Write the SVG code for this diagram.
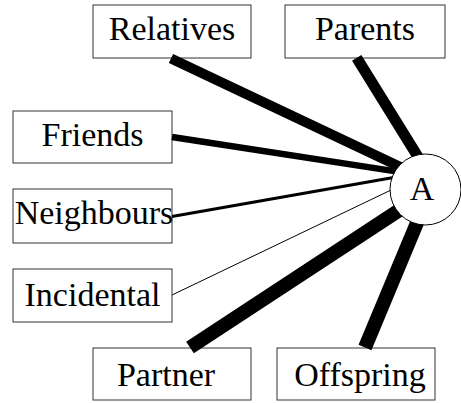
<svg xmlns="http://www.w3.org/2000/svg" width="461" height="403" viewBox="0 0 461 403">
<style>
.box{fill:#fff;stroke:#333;stroke-width:1}
.lbl{font-family:"Liberation Serif","Times New Roman",serif;font-size:34px;fill:#000;text-anchor:middle}
.edge{stroke:#000;fill:none;stroke-linecap:butt}
</style>
<rect width="461" height="403" fill="#fff"/>
<g id="relatives"><rect class="box" x="93" y="5" width="158" height="53"/><text class="lbl" x="172" y="40">Relatives</text></g>
<g id="parents"><rect class="box" x="285" y="5" width="160" height="53"/><text class="lbl" x="365" y="40">Parents</text></g>
<g id="friends"><rect class="box" x="13" y="111" width="159" height="52"/><text class="lbl" x="92.5" y="146">Friends</text></g>
<g id="neighbours"><rect class="box" x="13" y="189" width="159" height="54"/><text class="lbl" x="94" y="224">Neighbours</text></g>
<g id="incidental"><rect class="box" x="13" y="269" width="159" height="53"/><text class="lbl" x="92.5" y="306">Incidental</text></g>
<g id="partner"><rect class="box" x="93" y="348" width="158" height="52"/><text class="lbl" x="166" y="386">Partner</text></g>
<g id="offspring"><rect class="box" x="277" y="348" width="158" height="52"/><text class="lbl" x="360" y="386">Offspring</text></g>
<g id="connectors">
<line class="edge" x1="171" y1="58.5" x2="403.6" y2="168.4" stroke-width="10"/>
<line class="edge" x1="356.7" y1="57.8" x2="418.8" y2="158.1" stroke-width="11"/>
<line class="edge" x1="172" y1="137" x2="404" y2="172.6" stroke-width="6.5"/>
<line class="edge" x1="172" y1="216.5" x2="395" y2="177.3" stroke-width="3"/>
<line class="edge" x1="172" y1="295" x2="394.6" y2="188.3" stroke-width="1"/>
<line class="edge" x1="190" y1="347.5" x2="404.3" y2="206.8" stroke-width="14"/>
<line class="edge" x1="365" y1="347.5" x2="417.3" y2="222.1" stroke-width="14"/>
</g>
<g id="a"><circle cx="425.5" cy="189.5" r="35.5" fill="#fff" stroke="#000" stroke-width="1"/><text class="lbl" x="422" y="200">A</text></g>
</svg>
